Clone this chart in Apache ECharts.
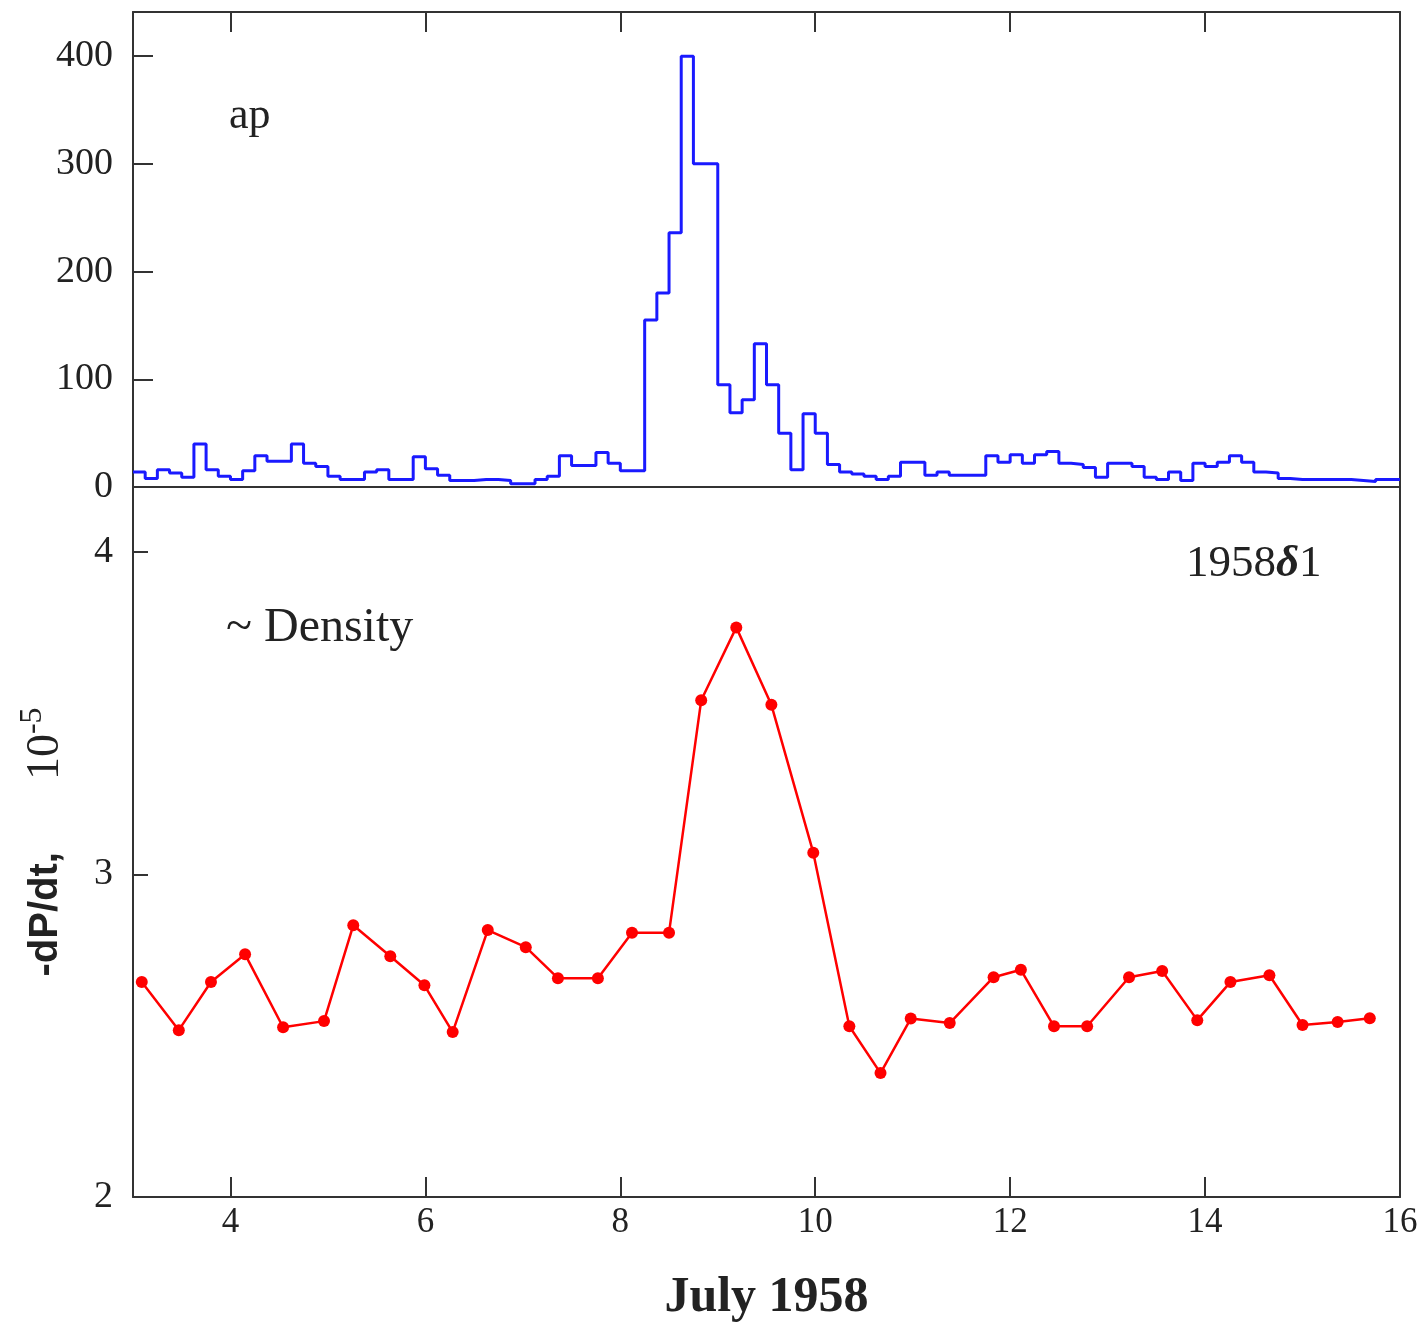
<!DOCTYPE html>
<html>
<head>
<meta charset="utf-8">
<script src="https://cdn.jsdelivr.net/npm/echarts@6/dist/echarts.min.js"></script>
<style>
html,body{margin:0;padding:0;background:#fff;}
#chart{width:1421px;height:1323px;}
</style>
</head>
<body>
<div id="chart"></div>
<script>
// ---- Data ----
// ap index, 3-hour bins (8 per day), starting July 3, 00h
var apStartDay = 3;
var apBinsPerDay = 8;
var apDay03 = [14, 8, 16, 13, 9, 40, 16, 10];
var apDay04 = [7, 15, 29, 24, 24, 40, 22, 19];
var apDay05 = [10, 7, 7, 14, 16, 7, 7, 28];
var apDay06 = [17, 11, 6, 6, 7, 7, 6, 3];
var apDay07 = [3, 7, 10, 29, 20, 20, 32, 22];
var apDay08 = [15, 15, 155, 180, 236, 400, 300, 300];
var apDay09 = [95, 69, 81, 133, 95, 50, 16, 68];
var apDay10 = [50, 21, 14, 12, 10, 7, 10, 23];
var apDay11 = [23, 11, 14, 11, 11, 11, 29, 23];
var apDay12 = [30, 22, 30, 33, 22, 21, 18, 9];
var apDay13 = [22, 22, 19, 9, 7, 14, 6, 22];
var apDay14 = [19, 23, 29, 23, 14, 13, 8, 7];
var apDay15 = [7, 7, 7, 7, 6, 5, 7, 7];

// Density proxy -dP/dt (10^-5), satellite 1958 delta 1
var densDays = [3.09, 3.47, 3.80, 4.15, 4.54, 4.96, 5.26, 5.64, 5.99, 6.28, 6.64, 7.03,
                7.36, 7.77, 8.12, 8.50, 8.83, 9.19, 9.55, 9.98, 10.35, 10.67, 10.98, 11.38,
                11.83, 12.11, 12.45, 12.79, 13.22, 13.56, 13.92, 14.26, 14.66, 15.00, 15.36, 15.69];
var densVals = [2.666, 2.517, 2.666, 2.752, 2.526, 2.545, 2.842, 2.746, 2.656, 2.511, 2.827, 2.774,
                2.678, 2.678, 2.819, 2.819, 3.539, 3.765, 3.525, 3.067, 2.529, 2.384, 2.553, 2.539,
                2.681, 2.704, 2.529, 2.529, 2.681, 2.700, 2.548, 2.666, 2.687, 2.533, 2.542, 2.554];

var xTicks = [4, 6, 8, 10, 12, 14, 16];
var apTicks = [0, 100, 200, 300, 400];
var densTicks = [2, 3, 4];

// ---- Build series data ----
var apAll = [].concat(apDay03, apDay04, apDay05, apDay06, apDay07, apDay08, apDay09,
                      apDay10, apDay11, apDay12, apDay13, apDay14, apDay15);
var apData = apAll.map(function (v, i) { return [apStartDay + i / apBinsPerDay, v]; });
apData.push([apStartDay + apAll.length / apBinsPerDay, apAll[apAll.length - 1]]);
var densData = densDays.map(function (d, i) { return [d, densVals[i]]; });

var serif = 'Liberation Serif';
var frame = {show: true, onZero: false, lineStyle: {color: '#333', width: 2}};
var tickStyle = {color: '#333', width: 2};

var chart = echarts.init(document.getElementById('chart'));
chart.setOption({
  animation: false,
  backgroundColor: '#fff',
  grid: [
    {left: 133, top: 12, width: 1267, height: 475, outerBoundsMode: 'none', containLabel: false},
    {left: 133, top: 487, width: 1267, height: 710, outerBoundsMode: 'none', containLabel: false}
  ],
  xAxis: [
    {gridIndex: 0, type: 'value', min: 3, max: 16, position: 'bottom',
     axisLine: frame, axisTick: {show: false}, axisLabel: {show: false}, splitLine: {show: false}},
    {gridIndex: 0, type: 'value', min: 3, max: 16, position: 'top',
     axisLine: frame,
     axisTick: {show: true, inside: true, length: 20, customValues: xTicks.slice(0, 6), lineStyle: tickStyle},
     axisLabel: {show: false}, splitLine: {show: false}},
    {gridIndex: 1, type: 'value', min: 3, max: 16, position: 'bottom',
     axisLine: frame,
     axisTick: {show: true, inside: true, length: 20, customValues: xTicks.slice(0, 6), lineStyle: tickStyle},
     axisLabel: {show: true, customValues: xTicks, margin: 8, fontFamily: serif, fontSize: 35, color: '#222'},
     splitLine: {show: false},
     name: 'July 1958', nameLocation: 'middle', nameGap: 76,
     nameTextStyle: {fontFamily: serif, fontSize: 50, fontWeight: 'bold', color: '#222'}}
  ],
  yAxis: [
    {gridIndex: 0, type: 'value', min: 0, max: 441, position: 'left',
     axisLine: frame,
     axisTick: {show: true, inside: true, length: 20, customValues: apTicks.slice(1), lineStyle: tickStyle},
     axisLabel: {show: true, customValues: apTicks, margin: 20, fontFamily: serif, fontSize: 38, color: '#222'},
     splitLine: {show: false}},
    {gridIndex: 0, type: 'value', min: 0, max: 441, position: 'right',
     axisLine: frame, axisTick: {show: false}, axisLabel: {show: false}, splitLine: {show: false}},
    {gridIndex: 1, type: 'value', min: 2, max: 4.2, position: 'left',
     axisLine: frame,
     axisTick: {show: true, inside: true, length: 15, customValues: densTicks, lineStyle: tickStyle},
     axisLabel: {show: true, customValues: densTicks, margin: 20, fontFamily: serif, fontSize: 38, color: '#222'},
     splitLine: {show: false},
     name: '{a|-dP/dt,}{b|10}{s|-5}', nameLocation: 'middle', nameGap: 58, nameRotate: 90,
     nameTextStyle: {
       rich: {
         a: {fontFamily: 'Liberation Sans', fontWeight: 'bold', fontSize: 40, color: '#222', padding: [0, 72, 0, 0]},
         b: {fontFamily: serif, fontSize: 46, color: '#222'},
         s: {fontFamily: serif, fontSize: 32, color: '#222', verticalAlign: 'top', padding: [0, 0, 26, 0]}
       }
     }},
    {gridIndex: 1, type: 'value', min: 2, max: 4.2, position: 'right',
     axisLine: frame, axisTick: {show: false}, axisLabel: {show: false}, splitLine: {show: false}}
  ],
  series: [
    {type: 'line', xAxisIndex: 0, yAxisIndex: 0, data: apData, step: 'end',
     showSymbol: false, lineStyle: {color: '#1a1aff', width: 3}},
    {type: 'line', xAxisIndex: 2, yAxisIndex: 2, data: densData,
     symbol: 'circle', symbolSize: 12, itemStyle: {color: '#ff0000'},
     lineStyle: {color: '#ff0000', width: 2.5}}
  ],
  graphic: [
    {type: 'text', left: 229, top: 94, style: {text: 'ap', font: '44px "Liberation Serif"', fill: '#222'}},
    {type: 'text', left: 226, top: 604, style: {text: '~ Density', font: '48px "Liberation Serif"', fill: '#222'}},
    {type: 'text', left: 1186, top: 542,
     style: {text: '1958{d|δ}1', font: '45px "Liberation Serif"', fill: '#222',
             rich: {d: {fontFamily: serif, fontSize: 45, fontStyle: 'italic', fontWeight: 'bold', fill: '#222'}}}}
  ]
});
</script>
</body>
</html>
